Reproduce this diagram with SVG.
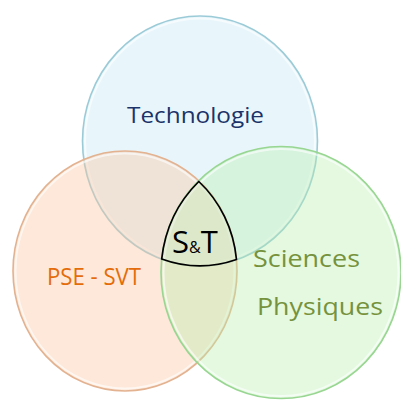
<svg xmlns="http://www.w3.org/2000/svg" width="401" height="401" viewBox="0 0 401 401">
<defs>
<style>
.lbl{font-family:"Open Sans","Liberation Sans",sans-serif;}
.rim{fill:none;stroke:#ffffff;stroke-opacity:0.6;stroke-width:2;}
</style>
</defs>
<rect width="401" height="401" fill="#ffffff"/>
<g id="technologie">
<ellipse cx="200" cy="141" rx="117.5" ry="125" fill="#c5e8f5" fill-opacity="0.4" stroke="#9ccbd8" stroke-width="1.6"/>
<ellipse class="rim" cx="200" cy="141" rx="115" ry="122.5"/>
<text class="lbl" x="127" y="123.3" font-size="22" fill="#1b3368" textLength="137" lengthAdjust="spacingAndGlyphs">Technologie</text>
</g>
<g id="pse-svt">
<ellipse cx="125" cy="271" rx="112" ry="120" fill="#fbc6a0" fill-opacity="0.4" stroke="#e3b290" stroke-width="1.6"/>
<ellipse class="rim" cx="125" cy="271" rx="109.5" ry="117.5"/>
<text class="lbl" x="47" y="285" font-size="23" fill="#e46c0a" textLength="94" lengthAdjust="spacingAndGlyphs">PSE - SVT</text>
</g>
<g id="sciences-physiques">
<ellipse cx="281" cy="272.5" rx="120" ry="126" fill="#b6eeaa" fill-opacity="0.37" stroke="#98d692" stroke-width="1.6"/>
<ellipse class="rim" cx="281" cy="272.5" rx="117.5" ry="123.5"/>
<text class="lbl" x="253" y="266.7" font-size="24.5" fill="#76923c" textLength="107" lengthAdjust="spacingAndGlyphs">Sciences</text>
<text class="lbl" x="257" y="315" font-size="23.5" fill="#76923c" textLength="126" lengthAdjust="spacingAndGlyphs">Physiques</text>
</g>
<g id="s-et-t">
<path d="M198.8,181.5 A112,120 0 0 1 236.5,259.5 A117.5,125 0 0 1 161.7,259 A120,126 0 0 1 198.8,181.5 Z" fill="#dfe9cf" fill-opacity="0.5" stroke="#000000" stroke-width="1.7" stroke-linejoin="round"/>
<text class="lbl" x="172" y="253" font-size="31" fill="#000000"><tspan>S</tspan><tspan font-size="16">&amp;</tspan><tspan>T</tspan></text>
</g>
<g id="connectors"/>
</svg>
